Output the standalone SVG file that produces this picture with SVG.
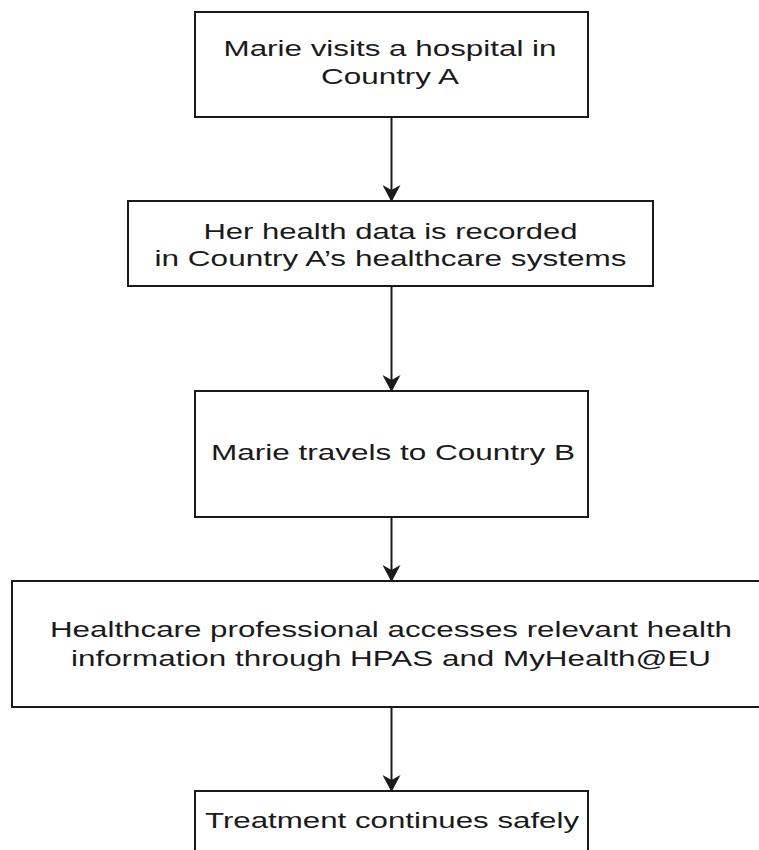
<svg xmlns="http://www.w3.org/2000/svg" width="759" height="850" viewBox="0 0 759 850">
  <style>
    .box { fill: #ffffff; stroke: #1a1a1a; stroke-width: 2; }
    .lbl { font-family: "Liberation Sans", Arial, sans-serif; font-size: 22px; fill: #1a1a1a; text-anchor: middle; }
    .edge { stroke: #1a1a1a; stroke-width: 2; fill: none; marker-end: url(#arr); }
  </style>
  <defs>
    <marker id="arr" markerUnits="userSpaceOnUse" viewBox="0 0 17 18" markerWidth="17" markerHeight="18" refX="16" refY="9" orient="auto">
      <path d="M0,0 L17,9 L0,18 L5,9 Z" fill="#1a1a1a"/>
    </marker>
  </defs>
  <rect width="759" height="850" fill="#ffffff"/>

  <g id="connectors">
    <line class="edge" x1="391.5" y1="117" x2="391.5" y2="201"/>
    <line class="edge" x1="391.5" y1="286" x2="391.5" y2="391"/>
    <line class="edge" x1="391.5" y1="517" x2="391.5" y2="581"/>
    <line class="edge" x1="391.5" y1="707" x2="391.5" y2="791"/>
  </g>

  <g id="n1">
    <rect class="box" x="195" y="12" width="393" height="105"/>
    <g transform="matrix(1.425 0 0 1 390 0)">
      <text class="lbl" x="0" y="56" textLength="233.7" lengthAdjust="spacingAndGlyphs">Marie visits a hospital in</text>
      <text class="lbl" x="0" y="84" textLength="96.8" lengthAdjust="spacingAndGlyphs">Country A</text>
    </g>
  </g>

  <g id="n2">
    <rect class="box" x="128" y="201" width="525" height="85"/>
    <g transform="matrix(1.425 0 0 1 390.5 0)">
      <text class="lbl" x="0" y="239" textLength="262.5" lengthAdjust="spacingAndGlyphs">Her health data is recorded</text>
      <text class="lbl" x="0" y="266" textLength="331.2" lengthAdjust="spacingAndGlyphs">in Country A’s healthcare systems</text>
    </g>
  </g>

  <g id="n3">
    <rect class="box" x="195" y="391" width="393" height="126"/>
    <g transform="matrix(1.425 0 0 1 393 0)">
      <text class="lbl" x="0" y="460" textLength="255.4" lengthAdjust="spacingAndGlyphs">Marie travels to Country B</text>
    </g>
  </g>

  <g id="n4">
    <rect class="box" x="12" y="581" width="759" height="126"/>
    <g transform="matrix(1.425 0 0 1 391 0)">
      <text class="lbl" x="0" y="637" textLength="478.6" lengthAdjust="spacingAndGlyphs">Healthcare professional accesses relevant health</text>
      <text class="lbl" x="0" y="666" textLength="449.1" lengthAdjust="spacingAndGlyphs">information through HPAS and MyHealth@EU</text>
    </g>
  </g>

  <g id="n5">
    <rect class="box" x="195" y="791" width="393" height="80"/>
    <g transform="matrix(1.425 0 0 1 392 0)">
      <text class="lbl" x="0" y="828" textLength="262.5" lengthAdjust="spacingAndGlyphs">Treatment continues safely</text>
    </g>
  </g>
</svg>
